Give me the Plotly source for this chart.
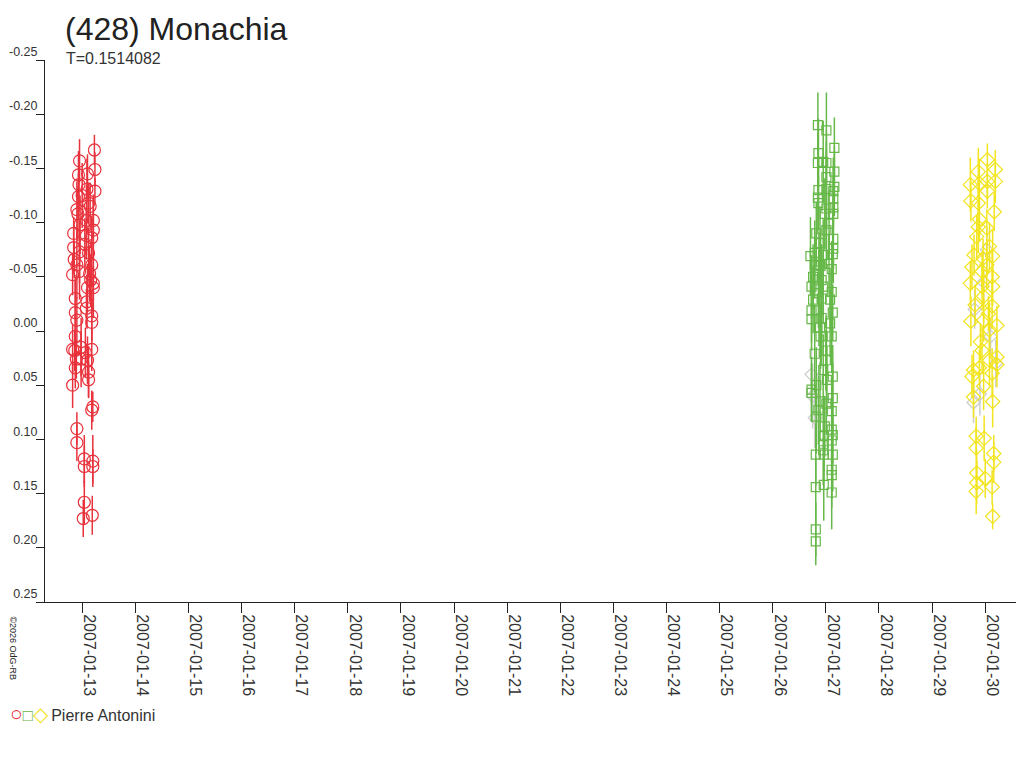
import numpy as np
import pandas as pd
import plotly.graph_objects as go

# session 1 (red circles): day of Jan 2007, reduced mag, error
red_day = [13.23, 12.95, 13.24, 12.93, 13.10, 12.94, 13.24, 13.09, 12.93, 13.00,
           12.90, 13.12, 13.21, 13.08, 12.84, 13.21, 13.08, 13.18, 12.84, 12.95,
           13.12, 12.85, 12.90, 13.18, 12.82, 13.14, 13.16, 13.21, 13.10, 13.21,
           12.87, 13.09, 13.08, 12.87, 12.90, 13.18, 13.18, 12.87, 12.82, 12.98,
           13.18, 12.89, 12.98, 13.10, 12.87, 13.12, 13.12, 12.82, 13.20, 13.18,
           12.90, 12.90, 13.04, 13.20, 13.04, 13.20, 13.04, 13.02, 13.19,
           12.92, 13.15, 12.96, 13.05, 12.86, 13.06, 12.95]
red_mag = [-0.167, -0.157, -0.149, -0.144, -0.145, -0.135, -0.129, -0.131, -0.124, -0.125,
           -0.112, -0.118, -0.102, -0.102, -0.090, -0.093, -0.088, -0.086, -0.077, -0.073,
           -0.072, -0.066, -0.061, -0.061, -0.052, -0.053, -0.047, -0.044, -0.040, -0.040,
           -0.030, -0.027, -0.021, -0.017, -0.010, -0.008, -0.014, 0.005, 0.017, 0.015,
           0.017, 0.026, 0.026, 0.027, 0.034, 0.038, 0.045, 0.050, 0.070, 0.073,
           0.090, 0.103, 0.118, 0.120, 0.125, 0.125, 0.158, 0.173, 0.170,
           -0.108, -0.115, -0.098, -0.080, 0.018, 0.020, -0.055]
red_err = [0.014, 0.020, 0.016, 0.022, 0.018, 0.025, 0.012, 0.028, 0.021, 0.030,
           0.026, 0.019, 0.024, 0.032, 0.015, 0.027, 0.022, 0.020, 0.018, 0.029,
           0.023, 0.017, 0.031, 0.021, 0.019, 0.026, 0.024, 0.016, 0.022, 0.028,
           0.020, 0.025, 0.018, 0.030, 0.021, 0.017, 0.024, 0.019, 0.023, 0.027,
           0.020, 0.018, 0.026, 0.022, 0.019, 0.024, 0.016, 0.021, 0.014, 0.018,
           0.015, 0.017, 0.022, 0.024, 0.019, 0.016, 0.020, 0.017, 0.018,
           0.025, 0.022, 0.027, 0.024, 0.019, 0.023, 0.026]

# session 2 (green squares)
green_day = [26.85, 27.01, 27.16, 26.86, 26.85, 26.95, 27.01, 27.16, 27.01, 27.16,
             27.01, 26.86, 27.14, 26.85, 26.86, 27.14, 27.01, 27.14, 26.98, 27.14,
             27.06, 27.01, 26.82, 27.14, 26.89, 27.14, 26.79, 27.13, 26.71, 26.95,
             27.06, 26.79, 27.11, 26.87, 26.76, 26.92, 26.73, 26.95, 27.11, 26.86,
             26.76, 27.08, 26.92, 26.73, 26.87, 27.13, 26.73, 26.92, 27.08, 26.89,
             27.11, 26.90, 27.01, 26.79, 27.00, 26.95, 27.13, 27.02, 26.82, 26.73,
             26.73, 27.13, 26.89, 27.01, 26.86, 27.11, 26.82, 26.98, 27.11, 26.96,
             27.13, 27.11, 26.96, 26.95, 26.81, 26.96, 27.13, 27.11, 27.11, 26.96,
             26.81, 27.11, 26.81, 26.81, 26.90]
green_mag = [-0.190, -0.185, -0.169, -0.164, -0.155, -0.156, -0.155, -0.147, -0.142, -0.133,
             -0.131, -0.130, -0.129, -0.123, -0.118, -0.122, -0.113, -0.114, -0.108, -0.108,
             -0.099, -0.093, -0.090, -0.085, -0.081, -0.076, -0.072, -0.071, -0.069, -0.070,
             -0.062, -0.061, -0.057, -0.056, -0.050, -0.047, -0.041, -0.041, -0.036, -0.035,
             -0.029, -0.029, -0.030, -0.019, -0.019, -0.017, -0.011, -0.012, -0.007, -0.003,
             0.005, 0.005, 0.018, 0.021, 0.027, 0.036, 0.042, 0.045, 0.050, 0.054,
             0.057, 0.062, 0.065, 0.067, 0.073, 0.074, 0.079, 0.088, 0.091, 0.097,
             0.096, 0.101, 0.104, 0.110, 0.114, 0.114, 0.114, 0.128, 0.133, 0.142,
             0.144, 0.149, 0.183, 0.194, -0.060]
green_err = [0.030, 0.035, 0.028, 0.032, 0.026, 0.038, 0.030, 0.024, 0.033, 0.027,
             0.036, 0.029, 0.031, 0.034, 0.025, 0.030, 0.037, 0.028, 0.033, 0.026,
             0.031, 0.035, 0.029, 0.027, 0.034, 0.032, 0.030, 0.025, 0.036, 0.033,
             0.028, 0.031, 0.026, 0.035, 0.030, 0.033, 0.029, 0.034, 0.027, 0.032,
             0.031, 0.028, 0.036, 0.030, 0.033, 0.026, 0.029, 0.035, 0.031, 0.027,
             0.034, 0.030, 0.032, 0.036, 0.028, 0.033, 0.029, 0.031, 0.035, 0.030,
             0.027, 0.033, 0.036, 0.029, 0.032, 0.030, 0.034, 0.028, 0.031, 0.033,
             0.026, 0.030, 0.035, 0.032, 0.029, 0.031, 0.034, 0.027, 0.030, 0.033,
             0.028, 0.034, 0.025, 0.022, 0.030]

# session 3 (yellow diamonds)
yellow_day = [30.04, 30.19, 29.87, 29.72, 30.04, 30.19, 30.04, 29.89, 29.73, 29.87,
              30.17, 29.89, 29.87, 30.03, 29.84, 30.08, 29.79, 30.14, 29.96, 29.75,
              30.03, 29.94, 30.13, 29.72, 29.94, 30.14, 29.97, 29.81, 30.13, 30.06,
              29.73, 29.97, 30.22, 30.08, 29.91, 29.94, 30.22, 30.22, 30.08, 29.78,
              29.75, 30.13, 29.89, 29.97, 29.78, 30.14, 29.83, 29.98, 29.83, 30.16,
              30.16, 29.84, 30.00, 29.84, 30.13, 29.83, 30.14]
yellow_mag = [-0.158, -0.149, -0.147, -0.135, -0.138, -0.138, -0.129, -0.136, -0.120, -0.118,
              -0.110, -0.103, -0.096, -0.095, -0.087, -0.078, -0.070, -0.069, -0.067, -0.059,
              -0.061, -0.055, -0.050, -0.044, -0.041, -0.041, -0.032, -0.024, -0.023, -0.016,
              -0.009, -0.010, -0.005, -0.001, 0.010, 0.018, 0.024, 0.031, 0.027, 0.036,
              0.042, 0.039, 0.034, 0.051, 0.061, 0.065, 0.097, 0.099, 0.108, 0.113,
              0.121, 0.131, 0.136, 0.140, 0.144, 0.148, 0.171]
yellow_err = [0.015, 0.018, 0.022, 0.025, 0.017, 0.020, 0.016, 0.023, 0.019, 0.026,
              0.018, 0.021, 0.024, 0.017, 0.020, 0.022, 0.019, 0.025, 0.018, 0.021,
              0.023, 0.017, 0.026, 0.020, 0.022, 0.018, 0.024, 0.019, 0.021, 0.016,
              0.023, 0.020, 0.018, 0.025, 0.017, 0.022, 0.019, 0.021, 0.024, 0.018,
              0.020, 0.023, 0.017, 0.022, 0.019, 0.024, 0.018, 0.021, 0.020, 0.017,
              0.019, 0.022, 0.018, 0.020, 0.016, 0.021, 0.012]

# faint grey session underneath
grey_day = [29.97, 29.80, 30.20, 29.78, 30.03, 30.10, 29.90, 26.75, 26.79, 26.73]
grey_mag = [-0.045, -0.020, 0.030, 0.066, -0.075, 0.005, 0.058, 0.060, 0.080, 0.040]
grey_err = [0.020, 0.018, 0.022, 0.019, 0.021, 0.017, 0.020, 0.030, 0.028, 0.026]

y_tick_vals = [-0.25, -0.20, -0.15, -0.10, -0.05, 0.00, 0.05, 0.10, 0.15, 0.20, 0.25]
y_tick_text = ["-0.25", "-0.20", "-0.15", "-0.10", "-0.05", "0.00",
               "0.05", "0.10", "0.15", "0.20", "0.25"]
x_range_days = [12.30, 30.73]

FONT = "Liberation Sans, Arial, sans-serif"


def to_date(days):
    return pd.Timestamp("2007-01-01") + pd.to_timedelta(np.array(days) - 1.0, unit="D")


def session(days, mags, errs, color, symbol, size):
    return go.Scatter(
        x=to_date(days), y=mags, mode="markers",
        marker=dict(symbol=symbol, size=size, color=color, line=dict(color=color, width=1.2)),
        error_y=dict(type="data", array=errs, color=color, thickness=1.5, width=0),
        showlegend=False, hoverinfo="x+y",
    )


fig = go.Figure()
fig.add_trace(session(grey_day, grey_mag, grey_err, "#cccccc", "diamond-open", 10))
fig.add_trace(session(red_day, red_mag, red_err, "#e8323c", "circle-open", 12))
fig.add_trace(session(green_day, green_mag, green_err, "#66b848", "square-open", 9))
fig.add_trace(session(yellow_day, yellow_mag, yellow_err, "#f2e41e", "diamond-open", 11))

# the page body adds an 8px margin, so the figure is 8px smaller than the window
fig.update_layout(
    width=1016, height=760,
    margin=dict(l=37, r=0, t=52, b=166),
    paper_bgcolor="white", plot_bgcolor="white",
    font=dict(family=FONT, size=14, color="#333333"),
    showlegend=False,
)
fig.update_xaxes(
    range=list(to_date(x_range_days)), automargin=False,
    showgrid=False, zeroline=False,
    showline=True, linecolor="#222222", linewidth=1,
    ticks="outside", ticklen=10, tickcolor="#222222",
    dtick=86400000, tickformat="%Y-%m-%d", tickangle=90,
    ticklabelshift=7, ticklabelstandoff=-2,
    tickfont=dict(family=FONT, size=16, color="#333333"),
)
fig.update_yaxes(
    range=[0.25, -0.25], automargin=False,
    showgrid=False, zeroline=False,
    showline=True, linecolor="#222222", linewidth=1,
    ticks="outside", ticklen=8, tickcolor="#222222",
    tickvals=y_tick_vals, ticktext=y_tick_text,
    ticklabelposition="outside top", ticklabelstandoff=4, ticklabelshift=-1,
    tickfont=dict(family=FONT, size=12.5, color="#333333"),
)

fig.add_annotation(text="(428) Monachia", xref="paper", yref="paper", x=0.018, y=1.0,
                   xanchor="left", yanchor="bottom", yshift=11, showarrow=False,
                   font=dict(family=FONT, size=32, color="#222222"))
fig.add_annotation(text="T=0.1514082", xref="paper", yref="paper", x=0.0195, y=1.0,
                   xanchor="left", yanchor="middle", yshift=2, showarrow=False,
                   font=dict(family=FONT, size=16, color="#333333"))
fig.add_annotation(text="©2026 OdG-RB", xref="paper", yref="paper", x=-0.033, y=-0.085,
                   xanchor="center", yanchor="middle", textangle=90, showarrow=False,
                   font=dict(family=FONT, size=9, color="#222222"))
fig.add_annotation(
    text="<span style='color:#e8323c;font-size:21px'>○</span>"
         "<span style='color:#66b848;font-size:17px'>□</span>"
         "<span style='color:#f2e41e;font-size:20px'>◇</span>\u2009Pierre Antonini",
    xref="paper", yref="paper", x=-0.0378, y=-0.205, xanchor="left", yanchor="middle",
    showarrow=False, font=dict(family=FONT, size=16, color="#333333"))

fig.write_html("out.html")
